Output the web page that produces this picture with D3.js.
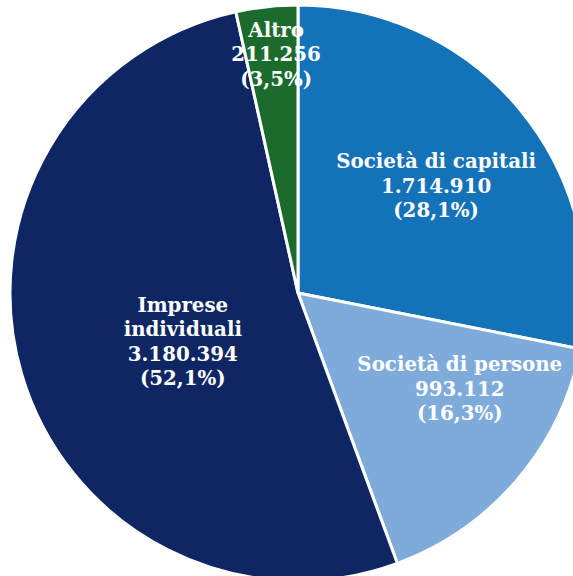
<!DOCTYPE html>
<html>
<head>
<meta charset="utf-8">
<script src="https://cdn.jsdelivr.net/npm/d3@7"></script>
<style>
  html, body { margin: 0; padding: 0; background: #fff; overflow: hidden; }
  svg { display: block; }
  .lbl { font-family: "DejaVu Serif", serif; font-weight: bold; font-size: 19.8px; fill: #fff; }
</style>
</head>
<body>
<svg id="chart" width="573" height="576"></svg>
<script>
// Imprese per forma giuridica
const categories = ["Società di capitali", "Società di persone", "Imprese individuali", "Altro"];
const labelNames = [["Società di capitali"], ["Società di persone"], ["Imprese", "individuali"], ["Altro"]];
const values = [1714910, 993112, 3180394, 211256];
const colors = ["#1472B9", "#7FABDB", "#0E2764", "#1B6B2D"];

// label placement: distance from centre and angular nudge (degrees)
const labelRadius = [175, 188, 125, 240];
const labelShift = [1.5, -9.9, -6.5, 1.0];

const W = 573, H = 576;
const cx = 298, cy = 293, R = 288;

const it = d3.formatLocale({ decimal: ",", thousands: ".", grouping: [3], currency: ["€", ""] });
const fmtNum = it.format(",d");
const fmtPct = it.format(".1f");

const total = d3.sum(values);
const data = categories.map((c, i) => ({ name: c, value: values[i], i }));

const pie = d3.pie().sort(null).value(d => d.value);
const arcs = pie(data);
const arc = d3.arc().innerRadius(0).outerRadius(R);

const svg = d3.select("#chart");
const g = svg.append("g").attr("transform", `translate(${cx},${cy})`);

g.selectAll("path.slice")
  .data(arcs)
  .join("path")
  .attr("class", "slice")
  .attr("d", arc)
  .attr("fill", d => colors[d.data.i])
  .attr("stroke", "#fff")
  .attr("stroke-width", 3)
  .attr("stroke-linejoin", "miter");

const lineH = 24.5;
arcs.forEach(a => {
  const i = a.data.i;
  const mid = (a.startAngle + a.endAngle) / 2 + labelShift[i] * Math.PI / 180;
  const x = Math.sin(mid) * labelRadius[i];
  const y = -Math.cos(mid) * labelRadius[i];
  const lines = labelNames[i].concat([fmtNum(a.data.value), "(" + fmtPct(a.data.value / total * 100) + "%)"]);
  const t = g.append("text")
    .attr("class", "lbl")
    .attr("text-anchor", "middle")
    .attr("transform", `translate(${x},${y})`);
  lines.forEach((ln, k) => {
    t.append("tspan")
      .attr("x", 0)
      .attr("y", (k - (lines.length - 1) / 2) * lineH)
      .attr("dominant-baseline", "central")
      .text(ln);
  });
});
</script>
</body>
</html>
